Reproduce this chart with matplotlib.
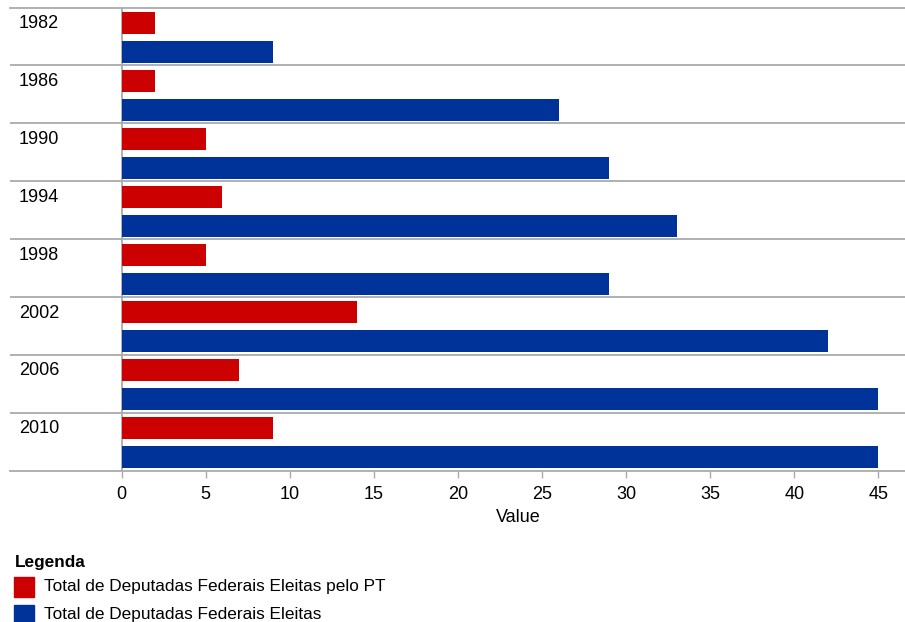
import matplotlib.pyplot as plt
from matplotlib.patches import Rectangle

plt.rcParams['font.family'] = ['Liberation Sans', 'DejaVu Sans']

# data
years = ['1982', '1986', '1990', '1994', '1998', '2002', '2006', '2010']
pt_values = [2, 2, 5, 6, 5, 14, 7, 9]
total_values = [9, 26, 29, 33, 29, 42, 45, 45]
series_labels = ['Total de Deputadas Federais Eleitas pelo PT',
                 'Total de Deputadas Federais Eleitas']
series_colors = ['#CC0000', '#003399']
x_ticks = [0, 5, 10, 15, 20, 25, 30, 35, 40, 45]

W, H = 905, 622
fig = plt.figure(figsize=(W / 100, H / 100), dpi=100)
ax = fig.add_axes([10 / W, 1 - 470.5 / H, 1 - 10 / W, (470.5 - 7.5) / H])

n = len(years)
red_pos = [i + 0.268 for i in range(n)]
blue_pos = [i + 0.77 for i in range(n)]
ax.barh(red_pos, pt_values, height=0.38, color=series_colors[0], zorder=3)
ax.barh(blue_pos, total_values, height=0.38, color=series_colors[1], zorder=3)

ax.set_xlim(-6.63, 46.58)
ax.set_ylim(n, 0)

grid = '#aaaaaa'
for i in range(1, n):
    ax.axhline(i, color=grid, lw=1.3, zorder=2)
ax.axvline(0, color=grid, lw=1.3, zorder=2)

for side in ['left', 'right']:
    ax.spines[side].set_visible(False)
for side in ['top', 'bottom']:
    ax.spines[side].set_color(grid)
    ax.spines[side].set_linewidth(1.3)

ax.set_yticks([])
ax.set_xticks(x_ticks)
ax.set_xticklabels([str(t) for t in x_ticks])
ax.tick_params(axis='x', length=5, width=1, color=grid, pad=6,
               labelsize=13, labelcolor='black')

for i, yr in enumerate(years):
    ax.text(-6.1, i + 0.28, yr, ha='left', va='center', fontsize=13)

fig.text(518 / W, 1 - 517 / H, 'Value', ha='center', va='center', fontsize=13)

# legend
fig.text(15 / W, 1 - 562 / H, 'Legenda', ha='left', va='center',
         fontsize=12.4, fontweight='bold')
for k, (lab, col) in enumerate(zip(series_labels, series_colors)):
    y0 = 577 + k * 28
    fig.patches.append(Rectangle((14 / W, 1 - (y0 + 20) / H), 20 / W, 20 / H,
                                 transform=fig.transFigure, color=col))
    fig.text(44 / W, 1 - (y0 + 10) / H, lab, ha='left', va='center', fontsize=12.4)

fig.savefig('out.png', dpi=100)
